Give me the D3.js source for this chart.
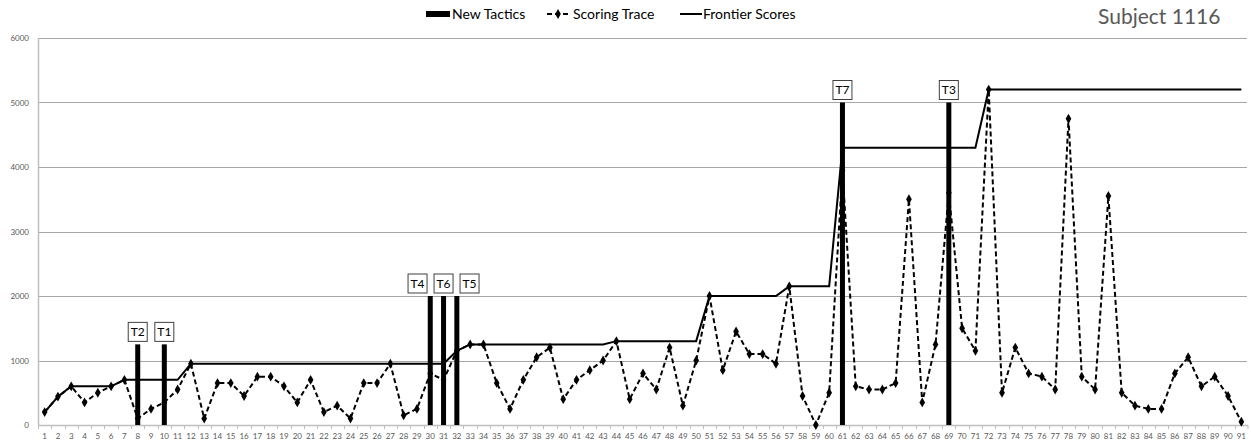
<!DOCTYPE html>
<html>
<head>
<meta charset="utf-8">
<script src="https://cdn.jsdelivr.net/npm/d3@7"></script>
<style>
  html, body { margin: 0; padding: 0; background: #fff; }
  svg { display: block; font-family: Lato, "Open Sans", sans-serif; }
</style>
</head>
<body>
<svg id="chart" width="1251" height="448"></svg>
<script>
// ---------- data ----------
const categories = d3.range(1, 92);
const scoringTrace = [
  200, 440, 600, 350, 500, 600, 700, 100, 250, 350,
  550, 950, 100, 650, 650, 450, 750, 750, 600, 350,
  700, 200, 300, 100, 650, 650, 950, 150, 250, 800,
  700, 1150, 1250, 1250, 650, 250, 700, 1050, 1200, 400,
  700, 850, 1000, 1300, 400, 800, 550, 1200, 300, 1000,
  2000, 850, 1450, 1100, 1100, 950, 2150, 450, 0, 500,
  3950, 600, 550, 550, 650, 3500, 350, 1250, 3600, 1500,
  1150, 5200, 500, 1200, 800, 750, 550, 4750, 750, 550,
  3550, 500, 300, 250, 250, 800, 1050, 600, 750, 450,
  50
];
const frontierScores = [
  200, 440, 600, 600, 600, 600, 700, 700, 700, 700,
  700, 950, 950, 950, 950, 950, 950, 950, 950, 950,
  950, 950, 950, 950, 950, 950, 950, 950, 950, 950,
  950, 1150, 1250, 1250, 1250, 1250, 1250, 1250, 1250, 1250,
  1250, 1250, 1250, 1300, 1300, 1300, 1300, 1300, 1300, 1300,
  2000, 2000, 2000, 2000, 2000, 2000, 2150, 2150, 2150, 2150,
  4300, 4300, 4300, 4300, 4300, 4300, 4300, 4300, 4300, 4300,
  4300, 5200, 5200, 5200, 5200, 5200, 5200, 5200, 5200, 5200,
  5200, 5200, 5200, 5200, 5200, 5200, 5200, 5200, 5200, 5200,
  5200
];
const tacticTrials = [8, 10, 30, 31, 32, 61, 69];
const tacticHeights = [1250, 1250, 2000, 2000, 2000, 5000, 5000];
const tacticLabels = ["T2", "T1", "T4", "T6", "T5", "T7", "T3"];
const yTicks = [0, 1000, 2000, 3000, 4000, 5000, 6000];
const legendLabels = ["New Tactics", "Scoring Trace", "Frontier Scores"];
const titleText = "Subject 1116";

// ---------- layout ----------
const svg = d3.select("#chart");
const pL = 38, pR = 1248, pT = 38, pB = 425;
const axisColor = "#bfbfbf", gridColor = "#a6a6a6", textColor = "#595959";

const x = d3.scaleBand().domain(categories).range([pL, pR]).padding(0);
const cx = d => x(d) + x.bandwidth() / 2;
const y = d3.scaleLinear().domain([0, 6000]).range([pB, pT]);

// gridlines
svg.append("g").selectAll("line").data(yTicks.filter(t => t > 0)).join("line")
  .attr("x1", pL).attr("x2", pR - 1)
  .attr("y1", d => Math.round(y(d)) + 0.5).attr("y2", d => Math.round(y(d)) + 0.5)
  .attr("stroke", gridColor).attr("stroke-width", 1);

// y axis labels
const yAxis = svg.append("g").attr("transform", `translate(${pL - 9},0)`)
  .call(d3.axisLeft(y).tickValues(yTicks).tickFormat(d3.format("d")).tickSize(0).tickPadding(0));
yAxis.select(".domain").remove();
yAxis.selectAll("text").attr("fill", textColor).style("font-size", "8px")
  .style("font-family", "Lato, sans-serif");

// y axis line
svg.append("line").attr("x1", pL + 0.5).attr("x2", pL + 0.5)
  .attr("y1", pT).attr("y2", pB)
  .attr("stroke", axisColor).attr("stroke-width", 1.5);

// x axis labels
const xAxis = svg.append("g").attr("transform", `translate(0,${pB + 6})`)
  .call(d3.axisBottom(x).tickSize(0).tickPadding(2));
xAxis.select(".domain").remove();
xAxis.selectAll("text").attr("fill", textColor).style("font-size", "8px")
  .style("font-family", "Lato, sans-serif");

// x axis line + ticks between categories
svg.append("line").attr("x1", pL).attr("x2", pR)
  .attr("y1", pB + 0.5).attr("y2", pB + 0.5)
  .attr("stroke", axisColor).attr("stroke-width", 1.5);
svg.append("g").selectAll("line").data(categories.concat([null])).join("line")
  .attr("x1", d => d === null ? pR : Math.round(x(d)) + 0.5)
  .attr("x2", d => d === null ? pR : Math.round(x(d)) + 0.5)
  .attr("y1", pB).attr("y2", pB + 4)
  .attr("stroke", axisColor).attr("stroke-width", 1);

// frontier scores
const lineGen = d3.line().x((d, i) => cx(categories[i])).y(d => y(d));
svg.append("path").datum(frontierScores)
  .attr("d", lineGen).attr("fill", "none")
  .attr("stroke", "#000").attr("stroke-width", 2);

// scoring trace
svg.append("path").datum(scoringTrace)
  .attr("d", lineGen).attr("fill", "none")
  .attr("stroke", "#000").attr("stroke-width", 2).attr("stroke-dasharray", "5,3");
svg.append("g").selectAll("path").data(scoringTrace).join("path")
  .attr("transform", (d, i) => `translate(${cx(categories[i])},${y(d)})`)
  .attr("d", d3.symbol().type(d3.symbolDiamond).size(28))
  .attr("fill", "#000");

// new tactic bars
const barW = 5;
svg.append("g").selectAll("rect").data(tacticTrials).join("rect")
  .attr("x", d => cx(d) - barW / 2).attr("width", barW)
  .attr("y", (d, i) => y(tacticHeights[i]))
  .attr("height", (d, i) => y(0) - y(tacticHeights[i]))
  .attr("fill", "#000");

// labels (spread apart where bars are adjacent)
const labelX = tacticTrials.map(cx);
const minGap = 26;
for (let iter = 0; iter < 50; iter++) {
  for (let i = 1; i < labelX.length; i++) {
    const gap = labelX[i] - labelX[i - 1];
    if (gap < minGap) {
      const push = (minGap - gap) / 2;
      labelX[i - 1] -= push; labelX[i] += push;
    }
  }
}
const boxW = 19, boxH = 19;
const lab = svg.append("g").selectAll("g").data(tacticTrials).join("g")
  .attr("transform", (d, i) => `translate(${labelX[i]},${y(tacticHeights[i]) - 3 - boxH / 2})`);
lab.append("rect").attr("x", -boxW / 2).attr("y", -boxH / 2).attr("width", boxW).attr("height", boxH)
  .attr("fill", "#fff").attr("stroke", "#404040").attr("stroke-width", 1);
lab.append("text").text((d, i) => tacticLabels[i])
  .attr("text-anchor", "middle").attr("dy", "0.36em")
  .style("font-size", "12px").attr("fill", "#000");

// legend
const lg = svg.append("g").style("font-size", "14px");
lg.append("rect").attr("x", 426).attr("y", 11).attr("width", 24).attr("height", 6).attr("fill", "#000");
lg.append("text").attr("x", 452).attr("y", 14).attr("dy", "0.35em").text(legendLabels[0]);
lg.append("line").attr("x1", 547).attr("x2", 570).attr("y1", 14).attr("y2", 14)
  .attr("stroke", "#000").attr("stroke-width", 2).attr("stroke-dasharray", "5,3");
lg.append("path").attr("transform", "translate(558,14)")
  .attr("d", d3.symbol().type(d3.symbolDiamond).size(28)).attr("fill", "#000");
lg.append("text").attr("x", 573).attr("y", 14).attr("dy", "0.35em").text(legendLabels[1]);
lg.append("line").attr("x1", 680).attr("x2", 702).attr("y1", 14).attr("y2", 14)
  .attr("stroke", "#000").attr("stroke-width", 2);
lg.append("text").attr("x", 703).attr("y", 14).attr("dy", "0.35em").text(legendLabels[2]);

// title
svg.append("text").attr("x", 1098).attr("y", 24).text(titleText)
  .style("font-size", "21px").attr("fill", textColor);
</script>
</body>
</html>
